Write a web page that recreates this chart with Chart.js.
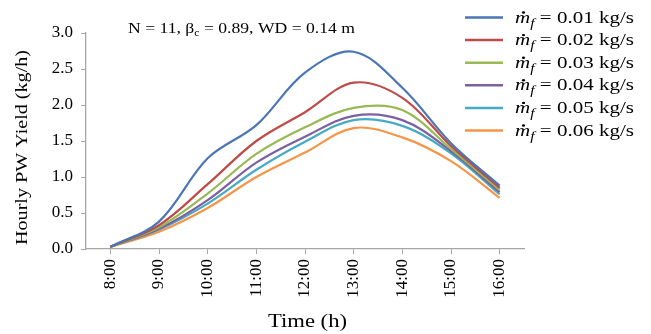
<!DOCTYPE html>
<html>
<head>
<meta charset="utf-8">
<script src="https://cdn.jsdelivr.net/npm/chart.js@4"></script>
<style>
  body { margin: 0; background: #fff; }
  canvas { display: block; }
</style>
</head>
<body>
<canvas id="yieldChart" width="651" height="334"></canvas>
<script>

// hours of the day on the x axis
var times = ['8:00', '9:00', '10:00', '11:00', '12:00', '13:00', '14:00', '15:00', '16:00'];

// feed water mass flow rates (kg/s)
var flowRates = ['0.01', '0.02', '0.03', '0.04', '0.05', '0.06'];

// hourly PW yield (kg/h) for each flow rate
var yield001 = [0.03, 0.38, 1.26, 1.72, 2.45, 2.74, 2.24, 1.47, 0.88];
var yield002 = [0.03, 0.33, 0.90, 1.50, 1.90, 2.31, 2.10, 1.43, 0.85];
var yield003 = [0.03, 0.30, 0.77, 1.32, 1.69, 1.96, 1.93, 1.39, 0.82];
var yield004 = [0.03, 0.28, 0.68, 1.20, 1.56, 1.85, 1.79, 1.36, 0.79];
var yield005 = [0.03, 0.27, 0.63, 1.10, 1.49, 1.79, 1.71, 1.33, 0.76];
var yield006 = [0.03, 0.24, 0.57, 1.00, 1.34, 1.68, 1.55, 1.22, 0.71];

var yTicks = [0, 0.5, 1.0, 1.5, 2.0, 2.5, 3.0];

var series = [yield001, yield002, yield003, yield004, yield005, yield006];
var colors = ['#4a76b5', '#be4b48', '#98b954', '#7d60a0', '#46aac5', '#f59547'];

var serif = "'Liberation Serif', 'DejaVu Serif', serif";
var axisGray = '#a6a6a6';

// draws a list of text runs on one baseline, squeezed or stretched to a given width
function drawRuns(ctx, runs, x, baseline, targetW) {
  var total = 0;
  runs.forEach(function(r) {
    ctx.font = r.font;
    r.w = ctx.measureText(r.t).width;
    total += r.w;
  });
  var sx = targetW / total;
  ctx.save();
  ctx.translate(x, baseline);
  ctx.scale(sx, 1);
  var cx = 0;
  runs.forEach(function(r) {
    ctx.font = r.font;
    ctx.fillText(r.t, cx, r.dy || 0);
    if (r.dot) {
      ctx.beginPath();
      ctx.arc(cx + r.w * 0.56, -10, 1.2, 0, Math.PI * 2);
      ctx.fill();
    }
    cx += r.w;
  });
  ctx.restore();
}

var labelsPlugin = {
  id: 'labels',
  afterDraw: function(chart) {
    var ctx = chart.ctx;
    ctx.save();
    ctx.fillStyle = '#000';
    ctx.textAlign = 'left';
    ctx.textBaseline = 'alphabetic';

    // parameter note above the curves
    drawRuns(ctx, [
      { t: 'N = 11, \u03b2', font: '15px ' + serif },
      { t: 'c', font: '10px ' + serif, dy: 3 },
      { t: ' = 0.89, WD = 0.14 m', font: '15px ' + serif }
    ], 128, 33, 227);

    // legend
    flowRates.forEach(function(rate, i) {
      var y = 17.5 + i * 22.6;
      ctx.strokeStyle = colors[i];
      ctx.lineWidth = 2.5;
      ctx.beginPath();
      ctx.moveTo(465, y);
      ctx.lineTo(503, y);
      ctx.stroke();
      drawRuns(ctx, [
        { t: 'm', font: 'italic 16px ' + serif, dot: true },
        { t: 'f', font: 'italic 12px ' + serif, dy: 4 },
        { t: ' = ' + rate + ' kg/s', font: '16px ' + serif }
      ], 515, y + 5, 119);
    });

    // x axis title
    drawRuns(ctx, [{ t: 'Time (h)', font: '18px ' + serif }], 268, 327, 79);

    // y axis title
    ctx.save();
    ctx.translate(27, 148);
    ctx.rotate(-Math.PI / 2);
    drawRuns(ctx, [{ t: 'Hourly PW Yield (kg/h)', font: '17px ' + serif }], -97, 0, 195);
    ctx.restore();

    ctx.restore();
  }
};

var datasets = series.map(function(values, i) {
  return {
    label: flowRates[i] + ' kg/s',
    data: values,
    borderColor: colors[i],
    backgroundColor: colors[i],
    borderWidth: 2.2,
    pointRadius: 0,
    tension: 0.35,
    fill: false
  };
});

new Chart(document.getElementById('yieldChart').getContext('2d'), {
  type: 'line',
  data: { labels: times, datasets: datasets },
  options: {
    responsive: false,
    animation: false,
    layout: { padding: { left: 0, right: 127, top: 33, bottom: 0 } },
    plugins: {
      legend: { display: false },
      tooltip: { enabled: false }
    },
    scales: {
      x: {
        type: 'category',
        offset: true,
        grid: { display: true, drawOnChartArea: false, tickLength: 5, color: axisGray },
        border: { color: axisGray, width: 1.3 },
        ticks: {
          minRotation: 90,
          maxRotation: 90,
          padding: 5,
          color: '#000',
          font: { family: serif, size: 17 }
        },
        afterFit: function(scale) { scale.height = 85; }
      },
      y: {
        min: 0,
        max: 3,
        afterBuildTicks: function(scale) {
          scale.ticks = yTicks.map(function(v) { return { value: v }; });
        },
        grid: { display: true, drawOnChartArea: false, tickLength: 5, color: axisGray },
        border: { color: axisGray, width: 1.3 },
        ticks: {
          padding: 8,
          color: '#000',
          font: { family: serif, size: 17 },
          callback: function(v) { return Number(v).toFixed(1); }
        },
        afterFit: function(scale) { scale.width = 86; }
      }
    }
  },
  plugins: [labelsPlugin]
});

</script>
</body>
</html>
